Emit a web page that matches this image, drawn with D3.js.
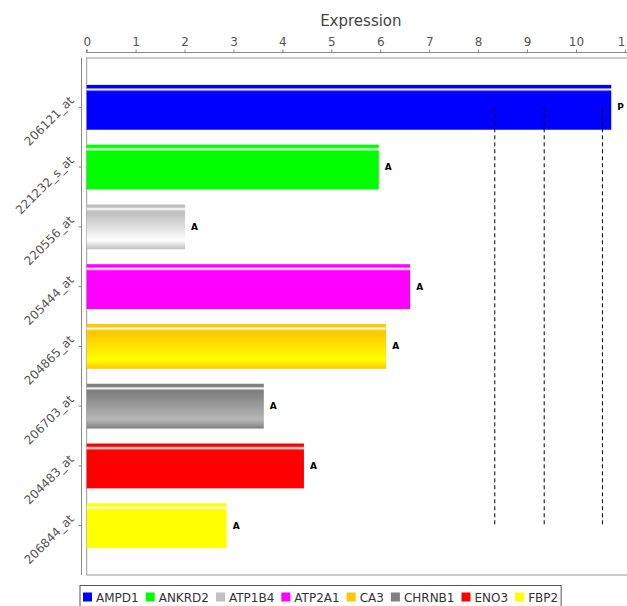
<!DOCTYPE html>
<html>
<head>
<meta charset="utf-8">
<script src="https://cdn.jsdelivr.net/npm/d3@7/dist/d3.min.js"></script>
<style>
  html, body { margin: 0; padding: 0; background: #fff; }
  svg { display: block; }
</style>
</head>
<body>
<svg id="chart" width="627" height="606"></svg>
<script>
// Probe sets, their genes and expression values
const probes = ["206121_at", "221232_s_at", "220556_at", "205444_at", "204865_at", "206703_at", "204483_at", "206844_at"];
const genes = ["AMPD1", "ANKRD2", "ATP1B4", "ATP2A1", "CA3", "CHRNB1", "ENO3", "FBP2"];
const expression = [10.72, 5.97, 2.01, 6.61, 6.12, 3.62, 4.44, 2.86];
const calls = ["P", "A", "A", "A", "A", "A", "A", "A"];
const geneColors = ["#0000ff", "#00ff00", "#c0c0c0", "#ff00ff", "#ffc800", "#808080", "#ff0000", "#ffff00"];
// Reference levels shown as dashed lines
const thresholds = [8.34, 9.35, 10.54];
const xTicks = [0, 1, 2, 3, 4, 5, 6, 7, 8, 9, 10, 11];

const svg = d3.select("#chart");
const font = "DejaVu Sans, Verdana, sans-serif";

const plot = { left: 86.7, right: 635, top: 58, bottom: 575 };

const x = d3.scaleLinear()
  .domain([0, 10])
  .range([plot.left, plot.left + 489.3]);

const y = d3.scaleBand()
  .domain(probes)
  .range([plot.top, plot.bottom])
  .paddingInner(0.25)
  .paddingOuter(0.45);

// Java-style brighter(): divide each channel by 0.7
function brighter(hex) {
  const c = d3.rgb(hex);
  const f = v => (v === 0 ? 0 : Math.min(255, Math.max(3, Math.round(v / 0.7))));
  return d3.rgb(f(c.r), f(c.g), f(c.b)).formatHex();
}

// Gradients for the bars: top strip, white glint, then body shading
const defs = svg.append("defs");
genes.forEach((g, i) => {
  const c0 = geneColors[i];
  const c1 = brighter(c0);
  const grad = defs.append("linearGradient")
    .attr("id", "grad-" + i)
    .attr("x1", 0).attr("y1", 0).attr("x2", 0).attr("y2", 1);
  const stops = [
    [0, c0], [0.06, c0], [0.10, "#ffffff"], [0.15, c0], [0.20, c0],
    [0.80, c1], [1, c0]
  ];
  stops.forEach(([o, col]) => grad.append("stop").attr("offset", o).attr("stop-color", col));
});

// Axis title
svg.append("text")
  .attr("x", (plot.left + plot.right) / 2)
  .attr("y", 26)
  .attr("text-anchor", "middle")
  .attr("font-family", font)
  .attr("font-size", 15)
  .attr("fill", "#444")
  .text("Expression");

// Top value axis
const xAxis = svg.append("g")
  .attr("transform", `translate(0,52.5)`)
  .call(d3.axisTop(x).tickValues(xTicks).tickFormat(d3.format("d")).tickSize(3).tickPadding(4));
xAxis.select(".domain").attr("stroke", "#888").attr("d", `M${plot.left},-3V0H${plot.right}`);
xAxis.selectAll(".tick line").attr("stroke", "#888");
xAxis.selectAll(".tick text")
  .attr("font-family", font)
  .attr("font-size", 12)
  .attr("fill", "#555");

// Left category axis
const yAxis = svg.append("g")
  .attr("transform", `translate(81.5,0)`)
  .call(d3.axisLeft(y).tickSize(3).tickPadding(4));
yAxis.select(".domain").attr("stroke", "#888").attr("d", `M-0,${plot.top}V${plot.bottom}`);
yAxis.selectAll(".tick line").attr("stroke", "#888");
yAxis.selectAll(".tick text")
  .attr("font-family", font)
  .attr("font-size", 12)
  .attr("fill", "#555")
  .attr("text-anchor", "end")
  .attr("x", null)
  .attr("dy", null)
  .attr("transform", "translate(-7,-6) rotate(-45)");

// Plot frame
svg.append("rect")
  .attr("x", plot.left)
  .attr("y", plot.top)
  .attr("width", plot.right - plot.left)
  .attr("height", plot.bottom - plot.top)
  .attr("fill", "none")
  .attr("stroke", "#999")
  .attr("stroke-width", 1);

// Bars
const rows = probes.map((p, i) => ({ probe: p, gene: genes[i], value: expression[i], call: calls[i], idx: i }));

svg.append("g").selectAll("rect")
  .data(rows)
  .join("rect")
  .attr("x", x(0))
  .attr("y", d => y(d.probe))
  .attr("width", d => x(d.value) - x(0))
  .attr("height", y.bandwidth())
  .attr("fill", d => `url(#grad-${d.idx})`);

// Detection call labels
svg.append("g").selectAll("text")
  .data(rows)
  .join("text")
  .attr("x", d => x(d.value) + 6)
  .attr("y", d => y(d.probe) + y.bandwidth() / 2 + 3)
  .attr("font-family", font)
  .attr("font-size", 9)
  .attr("font-weight", "bold")
  .attr("fill", "#000")
  .text(d => d.call);

// Dashed reference lines from first to last category
const yFirst = y(probes[0]) + y.bandwidth() / 2;
const yLast = y(probes[probes.length - 1]) + y.bandwidth() / 2;
svg.append("g").selectAll("line")
  .data(thresholds)
  .join("line")
  .attr("x1", d => x(d))
  .attr("x2", d => x(d))
  .attr("y1", yFirst)
  .attr("y2", yLast)
  .attr("stroke", "#000")
  .attr("stroke-width", 1)
  .attr("stroke-dasharray", "4,3");

// Legend
const legend = svg.append("g");
const legendX = 80, legendY = 585.5;
let cx = legendX + 3;
genes.forEach((g, i) => {
  const item = legend.append("g");
  item.append("rect")
    .attr("x", cx).attr("y", legendY + 7)
    .attr("width", 9).attr("height", 9)
    .attr("fill", geneColors[i]);
  const t = item.append("text")
    .attr("x", cx + 13)
    .attr("y", legendY + 16)
    .attr("font-family", font)
    .attr("font-size", 12)
    .attr("fill", "#333")
    .text(g);
  const w = t.node().getComputedTextLength();
  cx += 13 + w + 7;
});
legend.insert("rect", ":first-child")
  .attr("x", legendX)
  .attr("y", legendY)
  .attr("width", cx - legendX - 4)
  .attr("height", 30)
  .attr("fill", "#fff")
  .attr("stroke", "#555")
  .attr("stroke-width", 1);
</script>
</body>
</html>
